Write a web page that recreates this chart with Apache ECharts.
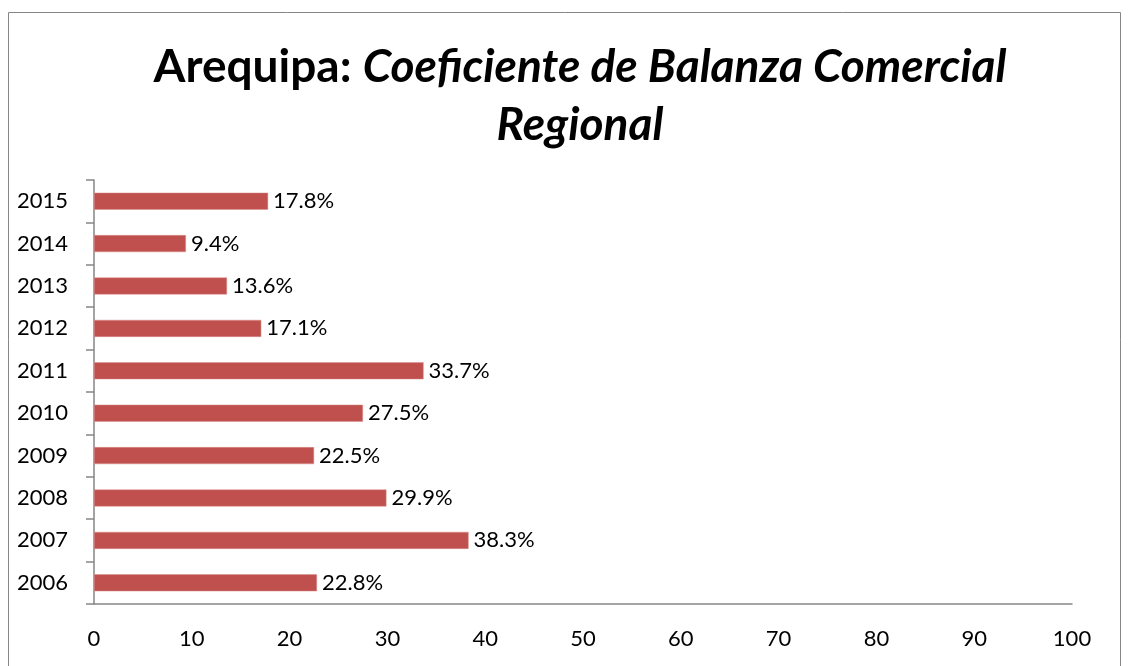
<!DOCTYPE html>
<html>
<head>
<meta charset="utf-8">
<script src="https://cdn.jsdelivr.net/npm/echarts@6/dist/echarts.min.js"></script>
<style>
  html, body { margin: 0; padding: 0; background: #fff; }
  #chart { width: 1129px; height: 666px; }
</style>
</head>
<body>
<div id="chart"></div>
<script>
// Annual regional trade balance coefficient, Arequipa (percent)
const years = ['2006', '2007', '2008', '2009', '2010', '2011', '2012', '2013', '2014', '2015'];
const coefficients = [22.8, 38.3, 29.9, 22.5, 27.5, 33.7, 17.1, 13.6, 9.4, 17.8];
const xTicks = [0, 10, 20, 30, 40, 50, 60, 70, 80, 90, 100];

const FONT = 'Lato, "Open Sans", sans-serif';
const chart = echarts.init(document.getElementById('chart'));

chart.setOption({
  animation: false,
  backgroundColor: '#ffffff',
  graphic: [{
    type: 'rect',
    shape: { x: 8.5, y: 12.5, width: 1112, height: 700 },
    style: { fill: 'none', stroke: '#868686', lineWidth: 1 },
    silent: true
  }],
  title: {
    left: 575,
    textAlign: 'center',
    top: 33,
    text: '{b|Arequipa: }{i|Coeficiente de Balanza Comercial}\n{i|Regional}',
    textStyle: {
      rich: {
        b: { fontFamily: FONT, fontSize: 46, fontWeight: 'bold', color: '#000', lineHeight: 58 },
        i: { fontFamily: FONT, fontSize: 46, fontWeight: 'bold', fontStyle: 'italic', color: '#000', lineHeight: 58 }
      }
    }
  },
  grid: { left: 94, right: 57, top: 180, bottom: 62, containLabel: false },
  xAxis: {
    type: 'value',
    min: xTicks[0],
    max: xTicks[xTicks.length - 1],
    interval: 10,
    axisLine: { show: true, lineStyle: { color: '#868686', width: 1.5 } },
    axisTick: { show: false },
    splitLine: { show: false },
    axisLabel: { fontFamily: FONT, fontSize: 22, color: '#000', margin: 24 }
  },
  yAxis: {
    type: 'category',
    data: years,
    axisLine: { show: true, lineStyle: { color: '#868686', width: 1.5 } },
    axisTick: { show: true, length: 8, lineStyle: { color: '#868686', width: 1.5 } },
    axisLabel: { fontFamily: FONT, fontSize: 22, color: '#000', margin: 26 }
  },
  series: [{
    type: 'bar',
    data: coefficients,
    barWidth: 17,
    itemStyle: { color: '#C0504D', borderColor: '#D9908E', borderWidth: 0.5 },
    label: {
      show: true,
      position: 'right',
      distance: 5,
      fontFamily: FONT,
      fontSize: 22,
      color: '#000',
      formatter: p => p.value.toFixed(1) + '%'
    }
  }]
});
</script>
</body>
</html>
